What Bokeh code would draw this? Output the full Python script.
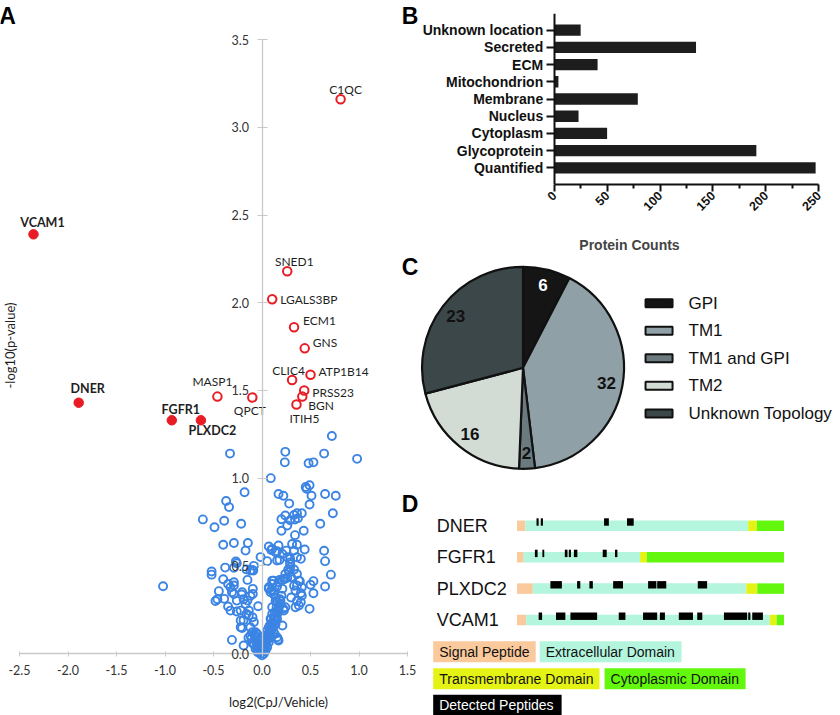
import numpy as np
from bokeh.plotting import figure
from bokeh.layouts import row, column
from bokeh.models import (LinearAxis, CategoricalAxis, FixedTicker, PrintfTickFormatter, Label,
                          ColumnDataSource, FactorRange, Range1d)
from bokeh.core.properties import value
from bokeh.embed import file_html
from bokeh.resources import INLINE

# ---------------- Panel A data (volcano plot) ----------------
blue_x = [0.72, -0.33, 0.24, 0.64, 0.98, 0.235, 0.48, 0.53, 0.09, -0.18, 0.45, 0.49, 0.46, 0.17, 0.22,
          0.65, 0.76, 0.51, -0.37, -0.34, 0.28, 0.49, 0.73, -0.61, -0.39, -0.215, -0.49, 0.20, 0.24, 0.29,
          0.33, 0.36, 0.41, 0.26, 0.34, 0.37, 0.20, 0.60, 0.43, 0.34, -0.40, -0.29, -0.146, 0.31, 0.36,
          0.07, 0.095, 0.155, -0.17, 0.25, 0.44, 0.64, 0.65, 0.21, 0.29, 0.40, 0.18, -0.015, 0.053, -0.27,
          -0.26, -0.38, -0.29, -0.10, -0.16, -0.52, -0.52, 0.155, 0.29, 0.27, 0.33, 0.24, 0.36, 0.71, -1.02,
          -0.40, -0.15, -0.35, -0.29, -0.325, 0.105, 0.18, 0.225, 0.26, 0.30, 0.39, 0.53, 0.50, 0.65, 0.33,
          0.345, 0.40, 0.53, -0.445, -0.46, -0.48, -0.29, -0.21, -0.095, -0.095, 0.07, 0.095, 0.12, 0.155, 0.21,
          0.30, 0.36, 0.38, 0.49, -0.04, -0.35, -0.325, -0.26, -0.19, -0.17, -0.136, -0.22, -0.205, -0.16, -0.098,
          -0.084, 0.12, 0.14, 0.15, 0.166, 0.19, 0.22, 0.105, 0.095, 0.21, 0.155, -0.31, -0.19, -0.10, -0.05,
          -0.033, -0.11, -0.084, -0.067, -0.043, -0.022, 0.0, 0.02, 0.036, 0.053, 0.07, 0.088, 0.053, 0.08, 0.105,
          0.166, 0.13, 0.02, -0.015, 0.036, 0.0,
          -0.12, -0.09, -0.084, -0.29, -0.31, -0.39, -0.26, -0.205, -0.22, -0.15, -0.12, -0.19, -0.136, -0.22,
          -0.12, -0.12, -0.067,
          0.07, 0.105, 0.12, 0.17, 0.21, 0.24, 0.088, 0.14, 0.155, 0.105, 0.13, 0.17, 0.225, 0.24, 0.088, 0.14,
          0.07, 0.12, 0.036, 0.155, 0.17, 0.053,
          0.29, 0.28, 0.38, 0.36, 0.41, 0.41, 0.40, 0.345, 0.26, 0.29, 0.36, 0.33, 0.17, 0.14, 0.105,
          0.02, -0.015, 0.036, 0.053, -0.033, 0.0, -0.05, 0.07, 0.095, -0.067, -0.084, 0.115, 0.14,
          -0.01, -0.03, -0.055, -0.075, 0.01, 0.03, 0.045, 0.06, 0.075, 0.09, 0.11, 0.125, 0.135, 0.16,
          0.175, 0.19, 0.2, -0.04, -0.06, -0.1, -0.14, 0.005, 0.025, 0.065, 0.1, 0.185]
blue_y = [1.24, 1.14, 1.15, 1.14, 1.11, 1.09, 1.085, 1.09, 1.00, 0.92, 0.95, 0.96, 0.94, 0.91, 0.90,
          0.91, 0.90, 0.90, 0.87, 0.835, 0.855, 0.85, 0.80, 0.765, 0.757, 0.74, 0.72, 0.766, 0.787, 0.76,
          0.79, 0.80, 0.80, 0.73, 0.764, 0.772, 0.70, 0.74, 0.70, 0.675, 0.62, 0.63, 0.63, 0.625, 0.62,
          0.61, 0.59, 0.584, 0.587, 0.587, 0.593, 0.586, 0.527, 0.568, 0.54, 0.54, 0.534, 0.55, 0.527, 0.525,
          0.515, 0.49, 0.489, 0.477, 0.48, 0.468, 0.45, 0.53, 0.51, 0.479, 0.479, 0.454, 0.454, 0.45, 0.384,
          0.424, 0.42, 0.397, 0.388, 0.378, 0.416, 0.42, 0.426, 0.432, 0.435, 0.413, 0.413, 0.392, 0.382, 0.386,
          0.36, 0.344, 0.344, 0.356, 0.31, 0.30, 0.34, 0.337, 0.369, 0.34, 0.369, 0.363, 0.356, 0.382, 0.369,
          0.32, 0.30, 0.274, 0.255, 0.27, 0.268, 0.245, 0.24, 0.31, 0.283, 0.245, 0.188, 0.146, 0.226, 0.207,
          0.18, 0.34, 0.30, 0.264, 0.245, 0.283, 0.255, 0.226, 0.198, 0.16, 0.198, 0.078, 0.046, 0.122, 0.112,
          0.074, 0.084, 0.055, 0.027, 0.008, 0.0, -0.01, 0.0, 0.017, 0.036, 0.065, 0.093, 0.131, 0.16, 0.169,
          0.08, 0.112, 0.036, 0.055, 0.074, 0.093,
          0.473, 0.473, 0.50, 0.407, 0.35, 0.312, 0.302, 0.35, 0.245, 0.302, 0.33, 0.19, 0.217, 0.15,
          0.15, 0.103, 0.122,
          0.378, 0.397, 0.416, 0.407, 0.42, 0.426, 0.35, 0.32, 0.293, 0.264, 0.236, 0.255, 0.245, 0.264, 0.198, 0.188,
          0.15, 0.122, 0.103, 0.093, 0.074, 0.074,
          0.49, 0.464, 0.416, 0.388, 0.378, 0.33, 0.293, 0.264, 0.549, 0.52, 0.549, 0.587, 0.616, 0.578, 0.597,
          0.017, 0.027, 0.046, 0.084, 0.046, 0.008, 0.065, 0.112, 0.131, 0.093, 0.112, 0.15, 0.169,
          0.012, 0.035, 0.07, 0.1, 0.02, 0.05, 0.07, 0.1, 0.125, 0.145, 0.18, 0.2, 0.215, 0.23,
          0.27, 0.3, 0.33, 0.02, 0.04, 0.06, 0.09, 0.03, 0.06, 0.095, 0.14, 0.31]

open_genes = ["C1QC", "SNED1", "LGALS3BP", "ECM1", "GNS", "CLIC4", "ATP1B14", "PRSS23", "BGN", "ITIH5", "MASP1", "QPCT"]
open_x = [0.81, 0.26, 0.105, 0.33, 0.44, 0.31, 0.50, 0.435, 0.415, 0.355, -0.46, -0.10]
open_y = [3.16, 2.18, 2.02, 1.86, 1.74, 1.56, 1.59, 1.50, 1.465, 1.42, 1.465, 1.46]

filled_genes = ["VCAM1", "DNER", "FGFR1", "PLXDC2"]
filled_x = [-2.356, -1.89, -0.93, -0.63]
filled_y = [2.39, 1.43, 1.33, 1.33]

x_ticks_a = [-2.5, -2.0, -1.5, -1.0, -0.5, 0.0, 0.5, 1.0, 1.5]
y_ticks_a = [0.0, 0.5, 1.0, 1.5, 2.0, 2.5, 3.0, 3.5]

# ---------------- Panel B data ----------------
loc_categories = ["Unknown location", "Secreted", "ECM", "Mitochondrion", "Membrane",
                  "Nucleus", "Cytoplasm", "Glycoprotein", "Quantified"]
loc_counts = [25, 134, 41, 4, 79, 23, 50, 191, 247]
count_ticks = [0, 50, 100, 150, 200, 250]
count_minor_ticks = [25, 75, 125, 175, 225]

# ---------------- Panel C data ----------------
topo_names = ["GPI", "TM1", "TM1 and GPI", "TM2", "Unknown Topology"]
topo_counts = [6, 32, 2, 16, 23]

# ---------------- Panel D data (fraction of sequence length) ----------------
proteins = ["DNER", "FGFR1", "PLXDC2", "VCAM1"]
signal_end = [0.031, 0.025, 0.059, 0.034]
extracellular_end = [0.866, 0.461, 0.859, 0.947]
transmembrane_end = [0.898, 0.486, 0.900, 0.972]
dner_peptides = [(0.073, 0.081), (0.089, 0.097), (0.326, 0.344), (0.412, 0.437)]
fgfr1_peptides = [(0.067, 0.077), (0.095, 0.102), (0.179, 0.189), (0.194, 0.202), (0.213, 0.226),
                  (0.321, 0.336), (0.367, 0.376)]
plxdc2_peptides = [(0.125, 0.168), (0.225, 0.237), (0.271, 0.284), (0.360, 0.397), (0.491, 0.522),
                   (0.525, 0.559), (0.677, 0.712)]
vcam1_peptides = [(0.081, 0.094), (0.146, 0.181), (0.200, 0.300), (0.381, 0.406), (0.472, 0.525),
                  (0.535, 0.554), (0.606, 0.659), (0.675, 0.694), (0.775, 0.862), (0.866, 0.874),
                  (0.881, 0.921)]
domain_legend = ["Signal Peptide", "Extracellular Domain", "Transmembrane Domain",
                 "Cytoplasmic Domain", "Detected Peptides"]

# ---------------- styles ----------------
BLUE = "#3b84e3"
RED = "#e81c24"
GRAYAX = "#c9c9c9"
TXT = "#1f1f1f"
FA = "Lato"
FS = "Liberation Sans"
TOPO_COLORS = ["#151515", "#8fa0a7", "#6b7a7e", "#d2dcd5", "#3b4748"]
SIGNAL_C, ECD_C, TM_C, CYTO_C, PEP_C = "#fac99c", "#b4f5dd", "#e4f314", "#62f70c", "#000000"

def clean(p):
    p.xgrid.visible = False
    p.ygrid.visible = False
    p.outline_line_color = None
    p.background_fill_color = "white"
    p.border_fill_color = "white"

# ================= Panel A =================
pA = figure(width=418, height=715, x_range=Range1d(-2.696, 1.613), y_range=Range1d(-0.353, 3.723),
            x_axis_location=None, y_axis_location=None, toolbar_location=None,
            output_backend="svg", min_border=0)
clean(pA)

xax = LinearAxis(fixed_location=0, bounds=(-2.5, 1.5), ticker=FixedTicker(ticks=x_ticks_a),
                 formatter=PrintfTickFormatter(format="%.1f"))
yax = LinearAxis(fixed_location=0, bounds=(0, 3.5), ticker=FixedTicker(ticks=y_ticks_a),
                 formatter=PrintfTickFormatter(format="%.1f"))
for ax in (xax, yax):
    ax.axis_line_color = GRAYAX
    ax.axis_line_width = 1.3
    ax.major_tick_line_color = GRAYAX
    ax.minor_tick_line_color = None
    ax.major_label_text_font = FA
    ax.major_label_text_font_size = "12.5px"
    ax.major_label_text_color = "#333333"
xax.major_tick_in = 2
xax.major_tick_out = 3
xax.major_label_standoff = 8
yax.major_tick_in = 5
yax.major_tick_out = 5
yax.major_label_standoff = 8
pA.add_layout(xax, "below")
pA.add_layout(yax, "left")

pA.scatter(blue_x, blue_y, size=8, fill_color=None, line_color=BLUE, line_width=1.9)
pA.scatter(open_x, open_y, size=8.5, fill_color=None, line_color=RED, line_width=2)
pA.scatter(filled_x, filled_y, size=9.5, fill_color=RED, line_color=RED)

# label placement (screen px offsets)
open_align = ["center", "center", "left", "left", "left", "center", "left", "left", "left", "center", "center", "center"]
open_dx = [5, 7, 8, 9, 8, -3.5, 8, 8, 6, 8, -5, -2.5]
open_dy = [-10, -10, 0, -7, -6, -9, -3, 2, 9, 14, -15, 13]
for al in ("left", "center"):
    idx = [i for i, a in enumerate(open_align) if a == al]
    src = ColumnDataSource(dict(x=[open_x[i] for i in idx], y=[open_y[i] for i in idx],
                                t=[open_genes[i] for i in idx], dx=[open_dx[i] for i in idx],
                                dy=[open_dy[i] for i in idx]))
    pA.text(x="x", y="y", text="t", x_offset="dx", y_offset="dy", source=src,
            text_font=value(FA), text_font_size="12px", text_color=TXT,
            text_align=al, text_baseline="middle")

filled_dx = [9, 9, 9, 11.5]
filled_dy = [-12, -14, -11, 10]
srcf = ColumnDataSource(dict(x=filled_x, y=filled_y, t=filled_genes, dx=filled_dx, dy=filled_dy))
pA.text(x="x", y="y", text="t", x_offset="dx", y_offset="dy", source=srcf,
        text_font=value(FA), text_font_size="12.5px", text_font_style="bold", text_color=TXT,
        text_align="center", text_baseline="middle")

pA.add_layout(Label(x=0.17, y=-0.274, text="log2(CpJ/Vehicle)", text_font=FA, text_font_size="13px",
                    text_color=TXT, text_align="center", text_baseline="middle"))
pA.add_layout(Label(x=-2.6, y=1.756, text="-log10(p-value)", angle=np.pi / 2, text_font=FA,
                    text_font_size="13px", text_color=TXT, text_align="center", text_baseline="middle"))
for letter, lx, ly in (("A", -2.71, 3.71), ("B", 1.44, 3.71), ("C", 1.44, 2.28), ("D", 1.44, 0.925)):
    pA.add_layout(Label(x=lx, y=ly, text=letter, text_font=FS, text_font_style="bold",
                        text_font_size="23px", text_color="#000000", text_align="left", text_baseline="top"))

# ================= Panel B =================
pB = figure(width=422, height=255,
            y_range=FactorRange(factors=list(reversed(loc_categories)),
                                range_padding=0.465, range_padding_units="absolute"),
            x_range=Range1d(-128.2, 270.5), y_axis_location=None, toolbar_location=None,
            output_backend="svg", min_border_left=0, min_border_right=0,
            min_border_top=13, min_border_bottom=65)
clean(pB)
pB.hbar(y=loc_categories, right=loc_counts, left=0, height=0.66, fill_color="#1d1d1d", line_color=None)
pB.xaxis.bounds = (0, 250)
pB.xaxis.ticker = FixedTicker(ticks=count_ticks, minor_ticks=count_minor_ticks)
pB.xaxis.axis_label = "Protein Counts"
pB.xaxis.major_label_orientation = np.pi / 4
pB.xaxis.major_tick_out = 7
pB.xaxis.major_tick_in = 0
pB.xaxis.minor_tick_out = 4
pB.xaxis.minor_tick_in = 0
pB.xaxis.minor_tick_line_width = 2
pB.xaxis.minor_tick_line_color = "#111111"
pB.xaxis.major_label_standoff = 2
pB.xaxis.axis_label_standoff = 19
pB.xaxis.axis_label_text_font = FS
pB.xaxis.axis_label_text_font_style = "bold"
pB.xaxis.axis_label_text_font_size = "14px"
pB.xaxis.major_label_text_font_size = "12.5px"
cax = CategoricalAxis(fixed_location=0)
cax.major_tick_out = 8
cax.major_tick_in = 0
cax.major_label_standoff = 3
cax.major_label_text_font_size = "14px"
pB.add_layout(cax, "left")
for ax in (pB.xaxis[0], cax):
    ax.axis_line_width = 2
    ax.major_tick_line_width = 2
    ax.axis_line_color = "#111111"
    ax.major_tick_line_color = "#111111"
    ax.major_label_text_font = FS
    ax.major_label_text_font_style = "bold"
    ax.major_label_text_color = "#111111"

# ================= Panel C =================
pC = figure(width=422, height=215, x_range=Range1d(-1.035, 3.144), y_range=Range1d(-1.017, 1.112),
            x_axis_location=None, y_axis_location=None, toolbar_location=None,
            output_backend="svg", min_border=0)
clean(pC)
counts = np.array(topo_counts, dtype=float)
cum = np.concatenate([[0], np.cumsum(counts)])
frac = cum / cum[-1]
start = np.pi / 2 - 2 * np.pi * frac[:-1]
end = np.pi / 2 - 2 * np.pi * frac[1:]
srcC = ColumnDataSource(dict(start=start, end=end, color=TOPO_COLORS, name=topo_names))
pC.wedge(x=0, y=0, radius=1, start_angle="start", end_angle="end", direction="clock",
         fill_color="color", line_color="#111111", line_width=2.2, source=srcC)
mid = (start + end) / 2
label_colors = ["white", "#111111", "#111111", "#111111", "#111111"]
pC.text(x=0.84 * np.cos(mid), y=0.84 * np.sin(mid), text=[str(c) for c in topo_counts],
        text_color=label_colors, text_font=value(FS), text_font_style="bold", text_font_size="17px",
        text_align="center", text_baseline="middle")
leg_y = [0.64 - 0.273 * i for i in range(len(topo_names))]
pC.rect(x=[1.347] * len(topo_names), y=leg_y, width=27, height=8, width_units="screen",
        height_units="screen", fill_color=TOPO_COLORS, line_color="#111111", line_width=2)
pC.text(x=[1.639] * len(topo_names), y=leg_y, text=topo_names, text_font=value(FS),
        text_font_size="17px", text_color="#111111", text_align="left", text_baseline="middle")

# ================= Panel D =================
pD = figure(width=422, height=245, x_range=Range1d(-0.369, 1.2116), y_range=Range1d(-3.041, 4.761),
            x_axis_location=None, y_axis_location=None, toolbar_location=None,
            output_backend="svg", min_border=0)
clean(pD)
row_y = [3, 2, 1, 0]
dl, dr, dyv, dc = [], [], [], []
for i in range(len(proteins)):
    bounds = [0.0, signal_end[i], extracellular_end[i], transmembrane_end[i], 1.0]
    for j, c in enumerate([SIGNAL_C, ECD_C, TM_C, CYTO_C]):
        dl.append(bounds[j]); dr.append(bounds[j + 1]); dyv.append(row_y[i]); dc.append(c)
pD.hbar(y=dyv, left=dl, right=dr, height=0.334, fill_color=dc, line_color=None)
pl, pr, py = [], [], []
for i, peps in enumerate([dner_peptides, fgfr1_peptides, plxdc2_peptides, vcam1_peptides]):
    for a, b in peps:
        pl.append(a); pr.append(b); py.append(row_y[i] + 0.121)
pD.hbar(y=py, left=pl, right=pr, height=0.236, fill_color=PEP_C, line_color=None)
pD.text(x=[-0.301] * 4, y=row_y, text=proteins, text_font=value(FS), text_font_size="18px",
        text_color="#111111", text_align="left", text_baseline="middle")

box_left = [-0.314, 0.085, -0.314, 0.328, -0.314]
box_right = [0.070, 0.616, 0.309, 0.856, 0.167]
box_yc = [-1.01, -1.01, -1.873, -1.873, -2.713]
box_h = 0.669
box_colors = [SIGNAL_C, ECD_C, TM_C, CYTO_C, PEP_C]
box_text_colors = ["#111111", "#111111", "#111111", "#111111", "white"]
pD.quad(left=box_left, right=box_right, top=[y + box_h / 2 for y in box_yc],
        bottom=[y - box_h / 2 for y in box_yc], fill_color=box_colors, line_color=None)
pD.text(x=[l + 0.0225 for l in box_left], y=box_yc, text=domain_legend, text_color=box_text_colors,
        text_font=value(FS), text_font_size="14px", text_align="left", text_baseline="middle")

layout = row(pA, column(pB, pC, pD))
open("out.html", "w").write(file_html(layout, INLINE))
